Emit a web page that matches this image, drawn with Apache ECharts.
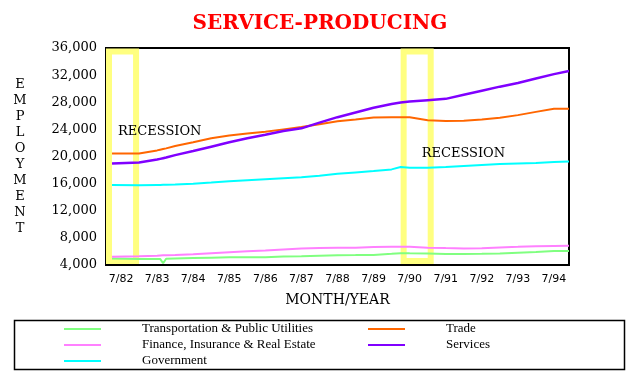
<!DOCTYPE html>
<html>
<head>
<meta charset="utf-8">
<script src="https://cdn.jsdelivr.net/npm/echarts@6/dist/echarts.min.js"></script>
<style>html,body{margin:0;padding:0;background:#fff;}#c{width:640px;height:380px;}</style>
</head>
<body>
<div id="c"></div>
<script>
// ---- data ----
const firstMonth = [1982, 2];   // axis starts Feb 1982
const lastMonth = [1994, 12];   // axis ends Dec 1994
const xTickLabels = ['7/82','7/83','7/84','7/85','7/86','7/87','7/88','7/89','7/90','7/91','7/92','7/93','7/94'];
const yTicks = [4000, 8000, 12000, 16000, 20000, 24000, 28000, 32000, 36000];

const sampleMonths = ['4/82','1/83','7/83','8/83','9/83','10/83','1/84','7/84','1/85','7/85','1/86','7/86','1/87','7/87','1/88','7/88','1/89','7/89','1/90','4/90','7/90','1/91','7/91','1/92','7/92','1/93','7/93','1/94','7/94','12/94'];

const tpu      = [4950,4870,4900,4900,4250,4920,4960,5020,5080,5140,5160,5160,5250,5300,5380,5450,5460,5480,5650,5750,5720,5700,5620,5610,5650,5700,5800,5900,6050,6050];
const trade    = [20450,20450,20900,21000,21100,21200,21550,22100,22700,23100,23400,23650,24000,24350,24750,25200,25450,25750,25800,25800,25780,25350,25220,25280,25450,25720,26100,26580,27050,27050];
const fire     = [5220,5300,5380,5400,5420,5430,5480,5600,5740,5880,6010,6140,6280,6420,6500,6540,6560,6650,6690,6690,6690,6560,6490,6440,6470,6590,6680,6780,6820,6840];
const services = [18950,19100,19550,19650,19750,19850,20200,20800,21450,22100,22700,23200,23750,24150,25000,25800,26500,27200,27750,27950,28100,28300,28500,29100,29700,30300,30850,31500,32150,32600];
const gov      = [15800,15750,15800,15800,15820,15830,15870,15980,16150,16350,16500,16650,16800,16950,17150,17450,17650,17850,18100,18450,18330,18350,18450,18600,18750,18900,18980,19050,19200,19250];

const seriesNames = ['Transportation & Public Utilities','Trade','Finance, Insurance & Real Estate','Services','Government'];
const seriesColors = ['#80ff80','#ff6600','#ff80ff','#8000ff','#00ffff'];

const recessionStart = ['3/82','5/90'];
const recessionEnd   = ['12/82','2/91'];
const recessionLabelAt = [['6/82', 23600], ['11/90', 20400]];

// ---- build ----
const months = [];
for (let y = firstMonth[0], m = firstMonth[1]; y < lastMonth[0] || (y === lastMonth[0] && m <= lastMonth[1]); ) {
  months.push(m + '/' + String(y).slice(2));
  m++; if (m > 12) { m = 1; y++; }
}
const pair = vals => sampleMonths.map((mo, i) => [mo, vals[i]]);
const allValues = [tpu, trade, fire, services, gov];

const serifFont = 'DejaVu Serif';
const chart = echarts.init(document.getElementById('c'), null, {renderer: 'canvas'});

const series = seriesNames.map((name, k) => ({
  name: name,
  type: 'line',
  data: pair(allValues[k]),
  showSymbol: false,
  symbol: 'none',
  connectNulls: true,
  z: 2,
  lineStyle: {color: seriesColors[k], width: k === 3 ? 2.5 : 2},
  itemStyle: {color: seriesColors[k]},
  animation: false
}));

series.push({
  name: 'recession',
  type: 'line',
  data: [],
  z: 5,
  silent: true,
  animation: false,
  markArea: {
    silent: true,
    itemStyle: {color: 'rgba(0,0,0,0)', borderColor: '#ffff80', borderWidth: 6},
    data: recessionStart.map((s, i) => [{xAxis: s, yAxis: 35500}, {xAxis: recessionEnd[i], yAxis: 4600}])
  },
  markPoint: {
    silent: true,
    symbol: 'circle',
    symbolSize: 0,
    label: {show: true, position: 'right', distance: 0, formatter: 'RECESSION', color: '#000', fontFamily: serifFont, fontSize: 13},
    data: recessionLabelAt.map(c => ({coord: c}))
  }
});

const legendText = {fontFamily: 'Liberation Serif', fontSize: 13, color: '#000', lineHeight: 16, padding: [0, 0, 0, 36]};

chart.setOption({
  animation: false,
  backgroundColor: '#fff',
  title: {
    text: 'SERVICE-PRODUCING',
    left: 'center',
    top: 9,
    textStyle: {color: '#ff0000', fontFamily: serifFont, fontWeight: 'bold', fontSize: 20}
  },
  grid: {left: 106, right: 71, top: 48, bottom: 115, show: true, borderColor: '#000', borderWidth: 2, backgroundColor: 'transparent'},
  xAxis: {
    type: 'category',
    data: months,
    boundaryGap: false,
    name: 'MONTH/YEAR',
    nameLocation: 'middle',
    nameGap: 35,
    nameTextStyle: {fontFamily: serifFont, fontSize: 14, color: '#000', verticalAlign: 'middle'},
    axisLine: {show: true, lineStyle: {color: '#000', width: 2}},
    axisTick: {show: false},
    splitLine: {show: false},
    axisLabel: {
      interval: (idx, val) => xTickLabels.indexOf(val) >= 0,
      margin: 9,
      fontFamily: 'DejaVu Sans',
      fontSize: 11,
      color: '#000'
    }
  },
  yAxis: {
    type: 'value',
    min: yTicks[0],
    max: yTicks[yTicks.length - 1],
    interval: yTicks[1] - yTicks[0],
    name: 'EMPLOYMENT'.split('').join('\n'),
    nameLocation: 'middle',
    nameGap: 86,
    nameRotate: 0,
    nameTextStyle: {fontFamily: serifFont, fontSize: 13, lineHeight: 16, color: '#000', align: 'center', verticalAlign: 'middle'},
    axisLine: {show: true, lineStyle: {color: '#000', width: 2}},
    axisTick: {show: false},
    splitLine: {show: false},
    axisLabel: {
      margin: 9,
      fontFamily: serifFont,
      fontSize: 13,
      color: '#000',
      formatter: v => v.toLocaleString('en-US')
    }
  },
  legend: [
    {
      left: 64, top: 321, orient: 'vertical', itemGap: 0, padding: 0,
      icon: 'rect', itemWidth: 37, itemHeight: 2,
      data: [seriesNames[0], seriesNames[2], seriesNames[4]],
      textStyle: legendText, selectedMode: false
    },
    {
      left: 368, top: 321, orient: 'vertical', itemGap: 0, padding: 0,
      icon: 'rect', itemWidth: 37, itemHeight: 2,
      data: [seriesNames[1], seriesNames[3]],
      textStyle: legendText, selectedMode: false
    }
  ],
  graphic: [{
    type: 'rect',
    shape: {x: 14.5, y: 320.5, width: 610, height: 49},
    style: {fill: 'none', stroke: '#000', lineWidth: 1.5},
    silent: true
  }],
  series: series
});
</script>
</body>
</html>
